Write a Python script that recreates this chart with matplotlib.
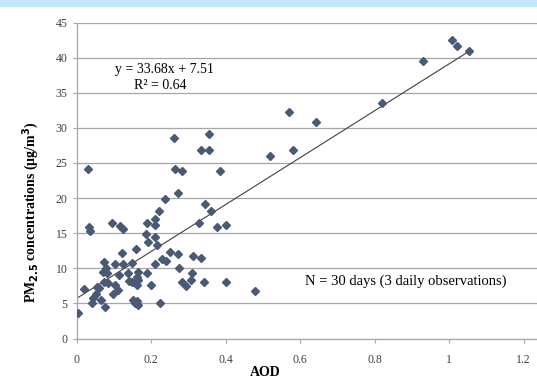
import numpy as np
import matplotlib.pyplot as plt
from matplotlib.patches import Rectangle

# AOD vs PM2.5
aod = [0.005, 0.020, 0.032, 0.034, 0.036, 0.041, 0.045, 0.052, 0.054, 0.061,
       0.065, 0.072, 0.074, 0.075, 0.077, 0.079, 0.081, 0.085, 0.094, 0.097,
       0.103, 0.103, 0.112, 0.115, 0.117, 0.121, 0.126, 0.126, 0.139, 0.142,
       0.148, 0.148, 0.151, 0.157, 0.159, 0.162, 0.162, 0.162, 0.166, 0.166,
       0.166, 0.187, 0.190, 0.190, 0.193, 0.200, 0.211, 0.211, 0.211, 0.211,
       0.215, 0.221, 0.224, 0.229, 0.238, 0.240, 0.251, 0.262, 0.264, 0.272,
       0.273, 0.276, 0.282, 0.284, 0.293, 0.307, 0.311, 0.314, 0.329, 0.333,
       0.334, 0.342, 0.346, 0.355, 0.356, 0.360, 0.378, 0.385, 0.401, 0.401,
       0.479, 0.519, 0.571, 0.580, 0.643, 0.819, 0.929, 1.009, 1.022, 1.054]
pm25 = [3.7, 7.0, 24.2, 15.9, 15.3, 5.1, 5.7, 6.4, 7.4, 7.2,
        5.5, 9.5, 10.9, 8.1, 4.5, 10.0, 9.3, 7.9, 16.5, 6.4,
        10.6, 7.6, 6.9, 9.1, 16.0, 12.2, 10.6, 15.6, 9.3, 8.2,
        10.7, 8.1, 5.5, 5.0, 12.7, 8.8, 7.6, 5.4, 9.5, 8.3,
        4.8, 14.9, 16.4, 9.3, 13.8, 7.6, 17.0, 16.1, 14.4, 10.6,
        13.3, 18.2, 5.1, 11.3, 19.9, 11.0, 12.3, 28.6, 24.2, 20.7,
        12.0, 10.1, 8.0, 23.9, 7.5, 8.4, 9.3, 11.8, 16.4, 26.9,
        11.5, 8.1, 19.1, 29.1, 26.9, 18.2, 15.9, 23.9, 16.1, 8.0,
        6.7, 26.0, 32.3, 26.9, 30.9, 33.5, 39.5, 42.5, 41.7, 40.9]

# trend line as drawn in the picture
trend_intercept = 5.7
trend_slope = 33.4

W, H = 537, 385
fig = plt.figure(figsize=(W / 100, H / 100), dpi=100)
plt.rcParams['font.family'] = ['Liberation Serif', 'DejaVu Serif']

# light blue strip along the top edge
fig.patches.append(Rectangle((0, 1 - 6 / H), 1, 6 / H, transform=fig.transFigure,
                             color='#c5e8f8', zorder=0))

left, right, top, bottom = 76.5, 545, 22.5, 338.5
ax = fig.add_axes([left / W, 1 - bottom / H, (right - left) / W, (bottom - top) / H])
ax.set_xlim(0, (right - left) / 372.5)
ax.set_ylim(0, 45)
ax.set_xticks(np.arange(0, 1.21, 0.2))
ax.set_xticklabels(['0', '0.2', '0.4', '0.6', '0.8', '1', '1.2'])
ax.set_yticks(np.arange(0, 46, 5))

ax.yaxis.grid(True, color='#a6a6a6', linewidth=0.9)
ax.set_axisbelow(True)
for s in ['right', 'top']:
    ax.spines[s].set_visible(False)
for s in ['left', 'bottom']:
    ax.spines[s].set_color('#a6a6a6')
    ax.spines[s].set_linewidth(0.9)
ax.tick_params(colors='#a6a6a6', labelcolor='#404040', labelsize=8.5, length=3)
ax.tick_params(axis='x', pad=8)

ax.plot(aod, pm25, linestyle='none', marker='D', markersize=4.4,
        color='#4a5a75', zorder=3)

xs = np.array([min(aod), max(aod)])
ax.plot(xs, trend_intercept + trend_slope * xs, color='#404040', linewidth=0.8, zorder=2)

ax.text(0.237, 38.3, 'y = 33.68x + 7.51', fontsize=10, ha='center', va='center')
ax.text(0.225, 36.0, 'R² = 0.64', fontsize=10, ha='center', va='center')
ax.text(0.885, 8.2, 'N = 30 days (3 daily observations)', fontsize=10.5,
        ha='center', va='center')

ax.set_xlabel('AOD', fontsize=10, fontweight='bold')
ax.xaxis.set_label_coords((265 - left) / (right - left), -(373 - bottom) / (bottom - top),
                          transform=ax.transAxes)
ax.xaxis.label.set_va('center')
ax.set_ylabel('PM$_{\\mathbf{2.5}}$ concentrations (μg/m$^{\\mathbf{3}}$)',
              fontsize=10, fontweight='bold')
ax.yaxis.set_label_coords(-(left - 31) / (right - left), (bottom - 212) / (bottom - top),
                          transform=ax.transAxes)
ax.yaxis.label.set_va('center')

fig.savefig('out.png', dpi=100)
